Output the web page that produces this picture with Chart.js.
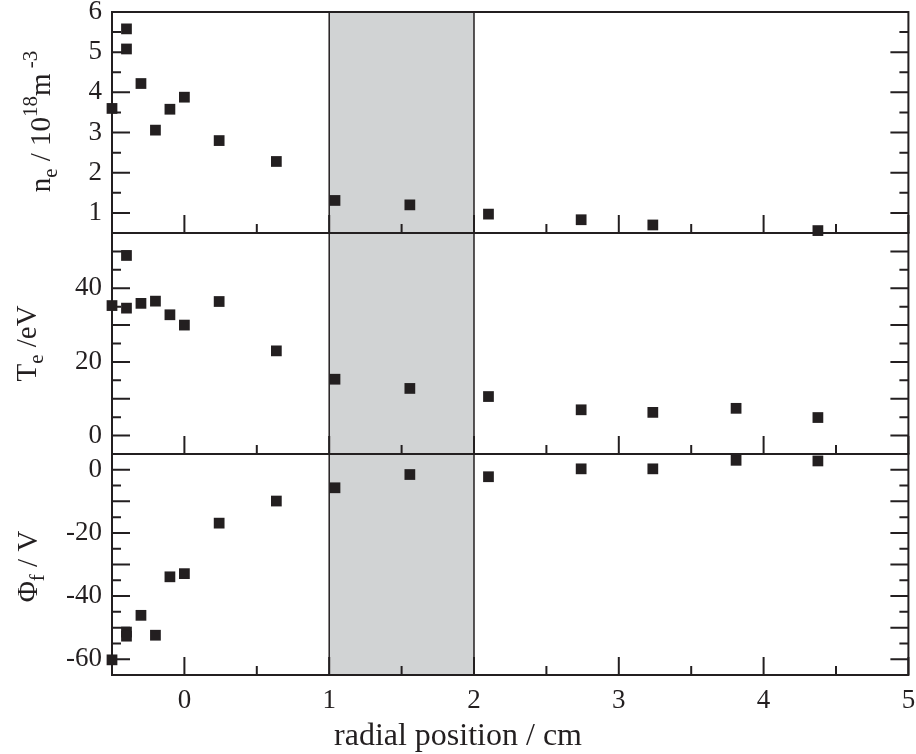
<!DOCTYPE html>
<html>
<head>
<meta charset="utf-8">
<script src="https://cdn.jsdelivr.net/npm/chart.js@4"></script>
<style>
  body { margin: 0; background: #fff; font-family: "Liberation Serif", serif; }
  #wrap { width: 916px; height: 754px; }
  .warm { position: absolute; left: -999px; font: 26px "Liberation Serif"; }
</style>
</head>
<body>
<span class="warm">0123456789 radial Φ</span>
<div id="wrap"><canvas id="profiles"></canvas></div>
<script>
// radial probe positions (cm), two shots at -0.4
const radialPos = [-0.5, -0.4, -0.4, -0.3, -0.2, -0.1, 0, 0.24, 0.635, 1.04, 1.557, 2.1, 2.74, 3.235, 3.81, 4.375];
// n_e in 1e18 m^-3 (no value at 3.81)
const density = [3.6, 5.58, 5.08, 4.22, 3.06, 3.58, 3.88, 2.8, 2.28, 1.31, 1.2, 0.97, 0.83, 0.7, null, 0.56];
// T_e in eV
const electronTemp = [35.3, 48.9, 34.6, 35.9, 36.5, 32.8, 30.0, 36.4, 23.0, 15.3, 12.8, 10.6, 7.0, 6.3, 7.4, 4.9];
// floating potential in V
const floatPot = [-60.2, -51.4, -52.7, -46.1, -52.4, -33.9, -32.9, -16.9, -9.9, -5.7, -1.5, -2.2, 0.3, 0.3, 3.0, 2.8];

const xTicks = [0, 1, 2, 3, 4, 5];
const neTicks = [1, 2, 3, 4, 5, 6];
const teTicks = [0, 20, 40];
const phiTicks = [-60, -40, -20, 0];
const shadedRange = [1, 2];

const ink = '#231f20';
const serif = '"Liberation Serif", "Times New Roman", serif';

function points(ys) {
  return radialPos.map((x, i) => ({ x, y: ys[i] })).filter(p => p.y !== null);
}

function series(ys, axis) {
  return {
    data: points(ys), yAxisID: axis, showLine: false, clip: false,
    pointStyle: 'rect', radius: 7.6, hoverRadius: 7.6,
    backgroundColor: ink, borderWidth: 0
  };
}

function panelAxis(min, max, ticks, minor, major) {
  return {
    type: 'linear', position: 'left', stack: 'panels', stackWeight: 1,
    min, max, minorStep: minor, majorStep: major,
    afterBuildTicks: s => { s.ticks = ticks.map(v => ({ value: v })); },
    afterFit: s => { s.width = 62; s.paddingTop = 0; s.paddingBottom = 0; },
    grid: { display: false, drawTicks: false },
    border: { display: false },
    ticks: { autoSkip: false, padding: 10, color: ink, font: { family: serif, size: 27, lineHeight: 1 } }
  };
}

// draws a (rotated) label with sub/superscripts
function richText(ctx, parts, bx, cy, rotate) {
  ctx.save();
  ctx.translate(bx, cy);
  if (rotate) ctx.rotate(-Math.PI / 2);
  ctx.fillStyle = ink;
  ctx.textBaseline = 'alphabetic';
  let total = 0;
  parts.forEach(p => { ctx.font = p.s + 'px ' + serif; p.w = ctx.measureText(p.t).width; total += p.w; });
  let x = -total / 2;
  parts.forEach(p => {
    ctx.font = p.s + 'px ' + serif;
    ctx.fillText(p.t, x, p.dy || 0);
    x += p.w;
  });
  ctx.restore();
}

const frame = {
  id: 'frame',
  beforeDatasetsDraw(chart) {
    const { ctx, chartArea: a, scales } = chart;
    const xs = scales.x;
    const x1 = xs.getPixelForValue(shadedRange[0]);
    const x2 = xs.getPixelForValue(shadedRange[1]);
    ctx.save();
    ctx.fillStyle = '#d1d3d4';
    ctx.fillRect(x1, a.top, x2 - x1, a.bottom - a.top);
    ctx.strokeStyle = ink;
    ctx.lineWidth = 1.5;
    [x1, x2].forEach(px => {
      ctx.beginPath(); ctx.moveTo(px, a.top); ctx.lineTo(px, a.bottom); ctx.stroke();
    });

    ctx.lineWidth = 2;
    ['y1', 'y2', 'y3'].forEach(id => {
      const s = scales[id];
      ctx.strokeRect(a.left, s.top, a.right - a.left, s.bottom - s.top);
      // x ticks along the bottom of each panel, pointing up
      for (let v = -0.5; v <= 5.001; v += 0.5) {
        const px = xs.getPixelForValue(v);
        const len = Number.isInteger(v) ? 18 : 9;
        ctx.beginPath(); ctx.moveTo(px, s.bottom); ctx.lineTo(px, s.bottom - len); ctx.stroke();
      }
      // y ticks on both sides, pointing in
      const o = s.options;
      for (let v = Math.ceil(s.min / o.minorStep) * o.minorStep; v <= s.max + 1e-9; v += o.minorStep) {
        const py = s.getPixelForValue(v);
        const major = Math.abs(v / o.majorStep - Math.round(v / o.majorStep)) < 1e-6;
        const len = major ? 18 : 9;
        ctx.beginPath();
        ctx.moveTo(a.left, py); ctx.lineTo(a.left + len, py);
        ctx.moveTo(a.right, py); ctx.lineTo(a.right - len, py);
        ctx.stroke();
      }
    });
    ctx.restore();
  },
  afterDraw(chart) {
    const { ctx } = chart;
    const s1 = chart.scales.y1, s2 = chart.scales.y2, s3 = chart.scales.y3;
    richText(ctx, [
      { t: 'n', s: 29 }, { t: 'e', s: 21, dy: 7 }, { t: ' / 10', s: 29 },
      { t: '18', s: 21, dy: -13 }, { t: 'm', s: 29 }, { t: ' -3', s: 21, dy: -13 }
    ], 50, (s1.top + s1.bottom) / 2 - 1, true);
    richText(ctx, [
      { t: 'T', s: 29 }, { t: 'e', s: 21, dy: 7 }, { t: ' /eV', s: 29 }
    ], 36, (s2.top + s2.bottom) / 2, true);
    richText(ctx, [
      { t: '\u03A6', s: 29 }, { t: 'f', s: 21, dy: 7 }, { t: ' / V', s: 29 }
    ], 37, (s3.top + s3.bottom) / 2 + 2, true);
    richText(ctx, [{ t: 'radial position / cm', s: 32 }], 458, 745, false);
  }
};

function draw() {
  new Chart(document.getElementById('profiles'), {
    type: 'scatter',
    data: {
      datasets: [
        series(floatPot, 'y3'),
        series(electronTemp, 'y2'),
        series(density, 'y1')
      ]
    },
    options: {
      responsive: true,
      maintainAspectRatio: false,
      animation: false,
      layout: { padding: { left: 50, right: 7, top: 12, bottom: 0 } },
      plugins: { legend: { display: false }, tooltip: { enabled: false } },
      scales: {
        x: {
          type: 'linear', min: -0.5, max: 5,
          afterBuildTicks: s => { s.ticks = xTicks.map(v => ({ value: v })); },
          afterFit: s => { s.height = 79; s.paddingLeft = 0; s.paddingRight = 0; },
          grid: { display: false, drawTicks: false },
          border: { display: false },
          ticks: { autoSkip: false, maxRotation: 0, padding: 12, color: ink, font: { family: serif, size: 27, lineHeight: 1 } }
        },
        y3: panelAxis(-65, 5, phiTicks, 5, 10),
        y2: panelAxis(-5, 55, teTicks, 5, 10),
        y1: panelAxis(0.5, 6, neTicks, 0.5, 1)
      }
    },
    plugins: [frame]
  });
}

document.fonts.load('26px "Liberation Serif"').then(draw, draw);
</script>
</body>
</html>
